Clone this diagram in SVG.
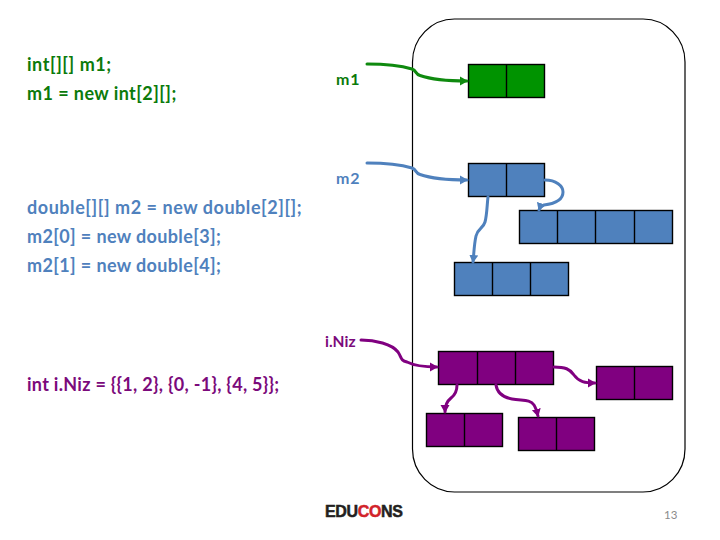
<svg xmlns="http://www.w3.org/2000/svg" width="720" height="540" viewBox="0 0 720 540">
<style>
text{font-family:"Lato","Carlito","Open Sans",sans-serif;font-weight:700}
.code{font-size:18px;letter-spacing:.55px}
.lbl{font-size:16px;letter-spacing:.8px}
.g{fill:#0b7a0b}.b{fill:#4f81bd}.p{fill:#7b0a7b}
.cell{stroke:#000;stroke-width:1.4}
.gc{fill:#009300}.bc{fill:#4f81bd}.pc{fill:#800080}
.con{fill:none;stroke-width:3;stroke-linecap:round;stroke-linejoin:round}
</style>
<defs>
<marker id="ag" markerUnits="userSpaceOnUse" markerWidth="9" markerHeight="10" refX="7" refY="5" orient="auto"><path d="M0 0.5L8 5L0 9.5Z" fill="#0f8a0f"/></marker>
<marker id="ab" markerUnits="userSpaceOnUse" markerWidth="9" markerHeight="10" refX="7" refY="5" orient="auto"><path d="M0 0.5L8 5L0 9.5Z" fill="#4f81bd"/></marker>
<marker id="ap" markerUnits="userSpaceOnUse" markerWidth="9" markerHeight="10" refX="7" refY="5" orient="auto"><path d="M0 0.5L8 5L0 9.5Z" fill="#800080"/></marker>
</defs>
<rect id="heap" x="412.5" y="19" width="272.5" height="473" rx="42" ry="43" fill="#fff" stroke="#000" stroke-width="1.2"/>
<g id="code-m1"><text class="code g" x="27" y="70.500">int[][] m1;</text><text class="code g" style="letter-spacing:.43px" x="27" y="99.500">m1 = new int[2][];</text></g>
<g id="code-m2"><text class="code b" x="27" y="214">double[][] m2 = new double[2][];</text><text class="code b" style="letter-spacing:.37px" x="27" y="243">m2[0] = new double[3];</text><text class="code b" style="letter-spacing:.37px" x="27" y="272">m2[1] = new double[4];</text></g>
<g id="code-iniz"><text class="code p" style="letter-spacing:.29px" x="27" y="391">int i.Niz = {{1, 2}, {0, -1}, {4, 5}};</text></g>
<g id="label-m1"><text class="lbl g" x="336" y="85">m1</text></g>
<g id="label-m2"><text class="lbl b" x="336" y="184">m2</text></g>
<g id="label-iniz"><text class="lbl p" style="font-size:15.5px;letter-spacing:0" x="325" y="347">i.Niz</text></g>
<g id="arr-m1"><rect class="cell gc" x="468.5" y="64.5" width="76" height="33"/><path class="cell" d="M506.5 64.5V97.5"/></g>
<g id="arr-m2"><rect class="cell bc" x="468.5" y="163.5" width="76" height="33"/><path class="cell" d="M506.5 163.5V196.5"/></g>
<g id="arr-m2-1"><rect class="cell bc" x="519.5" y="210.5" width="153" height="33"/><path class="cell" d="M557.5 210.5V243.5M595.5 210.5V243.5M634.5 210.5V243.5"/></g>
<g id="arr-m2-0"><rect class="cell bc" x="454.5" y="262.5" width="114" height="33"/><path class="cell" d="M492.5 262.5V295.5M530.5 262.5V295.5"/></g>
<g id="arr-iniz"><rect class="cell pc" x="438.5" y="351.5" width="115" height="33"/><path class="cell" d="M477.5 351.5V384.5M515.5 351.5V384.5"/></g>
<g id="arr-iniz-2"><rect class="cell pc" x="596.5" y="366.5" width="76" height="33"/><path class="cell" d="M634.5 366.5V399.5"/></g>
<g id="arr-iniz-0"><rect class="cell pc" x="426.5" y="413.5" width="76" height="33"/><path class="cell" d="M464.5 413.5V446.5"/></g>
<g id="arr-iniz-1"><rect class="cell pc" x="518.5" y="417.5" width="76" height="33"/><path class="cell" d="M556.5 417.5V450.5"/></g>
<g id="connectors">
<path class="con" stroke="#0f8a0f" marker-end="url(#ag)" d="M367 64C385 64 402 66 412 69C417 71 415 74 420 75.500C430 79 450 81 467 81"/>
<path class="con" stroke="#4f81bd" marker-end="url(#ab)" d="M367 163C385 163 402 165 412 168C417 170 415 173 420 174.500C430 178 450 180 467 180"/>
<path class="con" stroke="#4f81bd" marker-end="url(#ab)" d="M545 180C556 180 563 186 563 192C563 201 552 204 544 205C541 206 540 207 539 210"/>
<path class="con" stroke="#4f81bd" marker-end="url(#ab)" d="M488 197C487 205 487 215 485 222C483 229 478 228 476 236C474 245 474 253 473 262"/>
<path class="con" stroke="#800080" marker-end="url(#ap)" d="M361 340C375 340 392 344 398 352C402 358 400 360 407 362C415 366 425 367 437 367"/>
<path class="con" stroke="#800080" marker-end="url(#ap)" d="M554 367C565 367 570 369 574 375C579 382 585 383 595 383"/>
<path class="con" stroke="#800080" marker-end="url(#ap)" d="M457 385C457 392 455 395 451 398C446 402 445 406 445 412"/>
<path class="con" stroke="#800080" marker-end="url(#ap)" d="M496 385C497 392 502 397 512 399C522 401 530 399 534 405C536 408 537 412 538 416"/>
</g>
<g id="logo"><text x="325" y="517" font-size="16" stroke-width=".5" style="font-family:'Liberation Sans',sans-serif;font-weight:700;letter-spacing:-.35px" fill="#231f20" stroke="#231f20">EDU<tspan fill="#d2232a" stroke="#d2232a">CO</tspan>NS</text></g>
<g id="page"><text x="664" y="519" font-size="11.5" style="font-weight:400" fill="#8b8b8b">13</text></g>
</svg>
